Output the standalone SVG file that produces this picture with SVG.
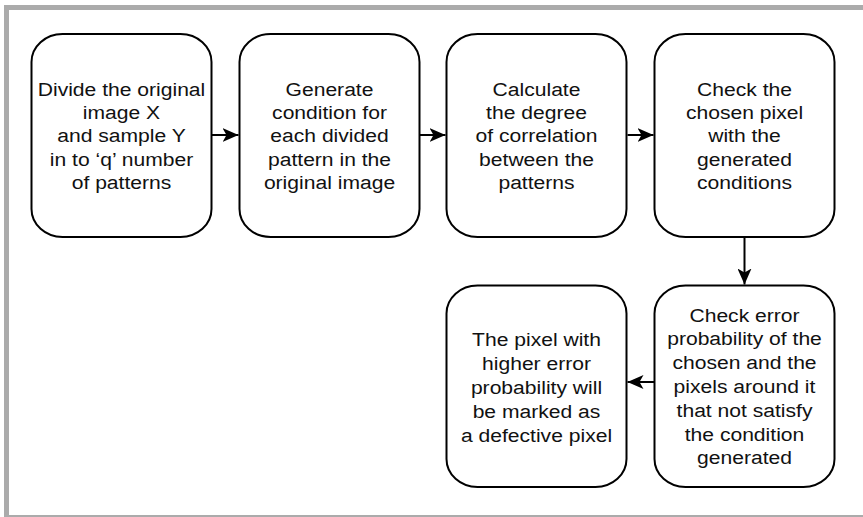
<svg xmlns="http://www.w3.org/2000/svg" width="863" height="517" viewBox="0 0 863 517">
  <style>
    .box { fill: #ffffff; stroke: #000000; stroke-width: 2; }
    .lbl { font-family: "Liberation Sans", Arial, sans-serif; font-size: 19px; fill: #111111; text-anchor: middle; }
    .edge { stroke: #000000; stroke-width: 2; fill: none; marker-end: url(#arrow); }
  </style>
  <defs>
    <marker id="arrow" viewBox="0 0 16 14" refX="16" refY="7" markerWidth="16" markerHeight="14" markerUnits="userSpaceOnUse" orient="auto">
      <path d="M16,7 L0,0 L4,7 L0,14 Z" fill="#000000"/>
    </marker>
  </defs>
  <rect x="0" y="0" width="863" height="517" fill="#ffffff"/>
  <rect id="frame" x="6.5" y="7.5" width="900" height="510" fill="none" stroke="#ababab" stroke-width="5"/>

  <g id="connectors">
    <line class="edge" x1="212" y1="135" x2="238.5" y2="135"/>
    <line class="edge" x1="419.5" y1="135" x2="445.5" y2="135"/>
    <line class="edge" x1="627.5" y1="135" x2="653.5" y2="135"/>
    <line class="edge" x1="744.5" y1="237.5" x2="744.5" y2="284.5"/>
    <line class="edge" x1="654" y1="382" x2="627.5" y2="382"/>
  </g>

  <g id="node1">
    <rect class="box" x="31.5" y="34" width="180" height="203" rx="31" ry="28"/>
    <g transform="translate(121.5,0) scale(1.11,1)">
      <text class="lbl" y="95.7"><tspan x="0">Divide the original</tspan><tspan x="0" dy="23.4">image X</tspan><tspan x="0" dy="23.4">and sample Y</tspan><tspan x="0" dy="23.4">in to ‘q’ number</tspan><tspan x="0" dy="23.4">of patterns</tspan></text>
    </g>
  </g>

  <g id="node2">
    <rect class="box" x="239.5" y="34" width="180" height="203" rx="31" ry="28"/>
    <g transform="translate(329.5,0) scale(1.11,1)">
      <text class="lbl" y="95.7"><tspan x="0">Generate</tspan><tspan x="0" dy="23.4">condition for</tspan><tspan x="0" dy="23.4">each divided</tspan><tspan x="0" dy="23.4">pattern in the</tspan><tspan x="0" dy="23.4">original image</tspan></text>
    </g>
  </g>

  <g id="node3">
    <rect class="box" x="446.5" y="34" width="180" height="203" rx="31" ry="28"/>
    <g transform="translate(536.5,0) scale(1.11,1)">
      <text class="lbl" y="95.7"><tspan x="0">Calculate</tspan><tspan x="0" dy="23.4">the degree</tspan><tspan x="0" dy="23.4">of correlation</tspan><tspan x="0" dy="23.4">between the</tspan><tspan x="0" dy="23.4">patterns</tspan></text>
    </g>
  </g>

  <g id="node4">
    <rect class="box" x="654.5" y="34" width="180" height="203" rx="31" ry="28"/>
    <g transform="translate(744.5,0) scale(1.11,1)">
      <text class="lbl" y="95.7"><tspan x="0">Check the</tspan><tspan x="0" dy="23.4">chosen pixel</tspan><tspan x="0" dy="23.4">with the</tspan><tspan x="0" dy="23.4">generated</tspan><tspan x="0" dy="23.4">conditions</tspan></text>
    </g>
  </g>

  <g id="node5">
    <rect class="box" x="654.5" y="285.5" width="180" height="201.5" rx="31" ry="28"/>
    <g transform="translate(744.5,0) scale(1.11,1)">
      <text class="lbl" y="321.7"><tspan x="0">Check error</tspan><tspan x="0" dy="23.8">probability of the</tspan><tspan x="0" dy="23.8">chosen and the</tspan><tspan x="0" dy="23.8">pixels around it</tspan><tspan x="0" dy="23.8">that not satisfy</tspan><tspan x="0" dy="23.8">the condition</tspan><tspan x="0" dy="23.8">generated</tspan></text>
    </g>
  </g>

  <g id="node6">
    <rect class="box" x="446.5" y="285.5" width="180" height="201.5" rx="31" ry="28"/>
    <g transform="translate(536.5,0) scale(1.11,1)">
      <text class="lbl" y="346"><tspan x="0">The pixel with</tspan><tspan x="0" dy="23.9">higher error</tspan><tspan x="0" dy="23.9">probability will</tspan><tspan x="0" dy="23.9">be marked as</tspan><tspan x="0" dy="23.9">a defective pixel</tspan></text>
    </g>
  </g>
</svg>
